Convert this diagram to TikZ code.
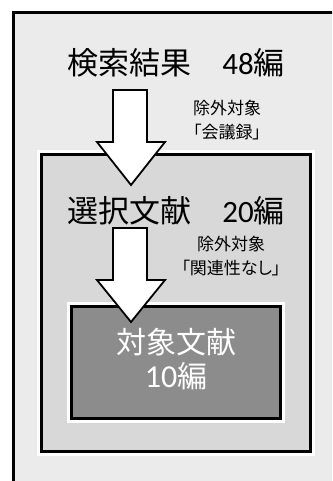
\documentclass[tikz,border=0pt]{standalone}
\usepackage{fontspec}
\setmainfont{Noto Sans CJK JP}
\newfontfamily\jpfont{Noto Sans CJK JP}
\newfontfamily\jpprop[RawFeature=+palt]{Noto Sans CJK JP}
\newfontfamily\numfont{Carlito}
\definecolor{outerfill}{HTML}{EBEBEB}
\definecolor{midfill}{HTML}{D8D8D8}
\definecolor{innerfill}{HTML}{8C8C8C}
\newcommand{\titlenum}[1]{{\numfont\fontsize{31}{32}\selectfont #1}}
\newcommand{\innernum}[1]{{\numfont\fontsize{32}{33}\selectfont #1}}
\tikzset{
  boxline/.style={draw=black, line width=3pt},
  halo/.style={draw=white, line width=9pt},
  blockarrow/.style={draw=black, fill=white, line width=1.8pt, line join=miter},
  titletext/.style={font=\jpfont\fontsize{31}{32}\selectfont, text=black, inner sep=0pt},
  notetext/.style={font=\jpprop\fontsize{17}{24}\selectfont, text=black, align=center, inner sep=0pt},
  innertext/.style={font=\jpfont\fontsize{30}{34}\selectfont, text=white, align=center, inner sep=0pt},
}
\begin{document}
\begin{tikzpicture}[x=1pt,y=-1pt]
\useasboundingbox (0,0) rectangle (332,481);
\clip (0,0) rectangle (332,481);
\fill[white] (0,0) rectangle (332,481);
% outer frame
\path[boxline, fill=outerfill] (13.5,12.5) rectangle (350,500);
% middle box
\path[halo] (41.5,155) rectangle (310,451);
\path[boxline, fill=midfill] (41.5,155) rectangle (310,451);
% inner box
\path[halo] (71.5,306) rectangle (280,418.5);
\path[boxline, fill=innerfill] (71.5,306) rectangle (280,418.5);
% texts
\node[titletext] (search) at (176,63) {検索結果　\titlenum{48}編};
\node[notetext] (note1) at (227,120) {除外対象\\「会議録」};
\node[titletext] (select) at (176,211) {選択文献　\titlenum{20}編};
\node[notetext] (note2) at (231,256) {除外対象\\「関連性なし」};
\node[innertext] (target) at (176,359) {対象文献\\\innernum{10}編};
% block arrows
\coordinate (a1tip) at (131,185);
\path[blockarrow] (113,90) -- (147,90) -- (147,142) -- (165,142) -- (a1tip) -- (97,142) -- (113,142) -- cycle;
\coordinate (a2tip) at (131,322);
\path[blockarrow] (113,228) -- (147,228) -- (147,280) -- (165,280) -- (a2tip) -- (97,280) -- (113,280) -- cycle;
\end{tikzpicture}
\end{document}
